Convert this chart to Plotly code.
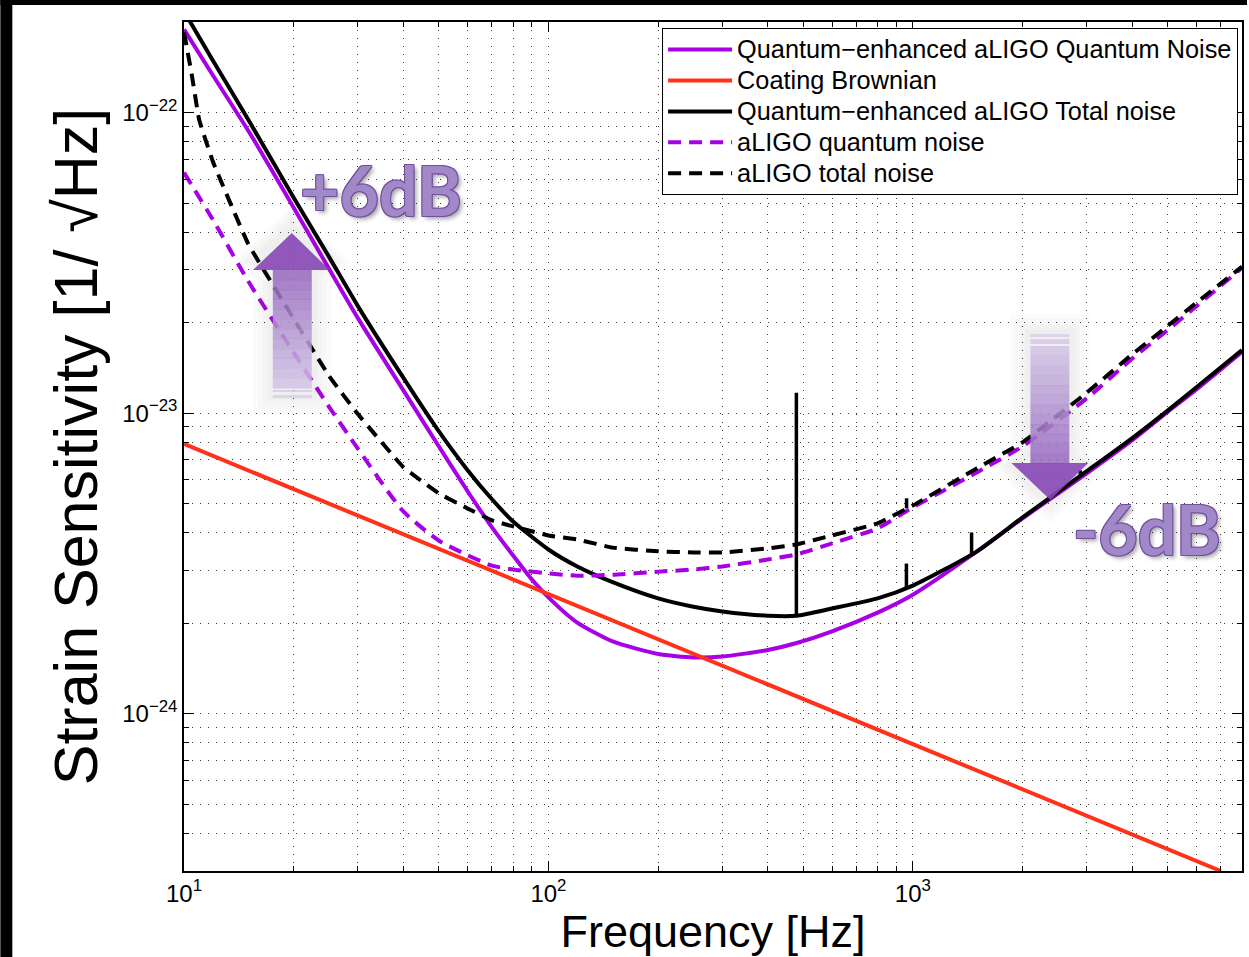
import plotly.graph_objects as go
import math

# ---------------- data ----------------
freq_common = [10, 12, 15, 20, 25, 30, 40, 50, 60, 70, 80, 100, 120, 150, 200, 250,
               300, 400, 480, 600, 800, 1000, 1500, 2000, 3000, 4000, 5000, 6000, 8000]

# Quantum-enhanced aLIGO quantum noise (purple solid)
qe_quantum_freq = [10, 12, 15, 20, 25, 30, 40, 50, 60, 70, 80, 90, 100, 120, 150, 200, 250,
                   300, 400, 480, 600, 800, 1000, 1500, 2000, 3000, 4000, 5000, 6000, 8000]
qe_quantum = [1.89e-22, 1.33e-22, 8.71e-23, 4.82e-23, 3.02e-23, 2.07e-23, 1.19e-23, 7.76e-24,
              5.50e-24, 4.17e-24, 3.36e-24, 2.80e-24, 2.44e-24, 2.01e-24, 1.74e-24, 1.58e-24,
              1.54e-24, 1.55e-24, 1.63e-24, 1.72e-24, 1.88e-24, 2.17e-24, 2.49e-24, 3.47e-24,
              4.47e-24, 6.31e-24, 8.13e-24, 1.01e-23, 1.20e-23, 1.60e-23]

# Coating Brownian (red)
coating_freq = [10, 7000]
coating = [7.9e-24, 3.0e-25]

# Quantum-enhanced aLIGO total noise (black solid), smooth part
qe_total = [2.17e-22, 1.49e-22, 9.48e-23, 5.21e-23, 3.31e-23, 2.27e-23, 1.31e-23, 8.71e-24,
            6.46e-24, 5.17e-24, 4.36e-24, 3.52e-24, 3.09e-24, 2.74e-24, 2.42e-24, 2.27e-24,
            2.19e-24, 2.12e-24, 2.12e-24, 2.24e-24, 2.42e-24, 2.67e-24, 3.47e-24, 4.50e-24,
            6.41e-24, 8.26e-24, 1.02e-23, 1.22e-23, 1.62e-23]

# aLIGO quantum noise (purple dashed)
aligo_quantum = [6.31e-23, 4.40e-23, 2.75e-23, 1.59e-23, 1.05e-23, 7.62e-24, 4.71e-24, 3.77e-24,
                 3.37e-24, 3.11e-24, 3.02e-24, 2.93e-24, 2.88e-24, 2.90e-24, 2.97e-24, 3.02e-24,
                 3.09e-24, 3.26e-24, 3.39e-24, 3.69e-24, 4.14e-24, 4.86e-24, 6.36e-24, 7.76e-24,
                 1.12e-23, 1.52e-23, 1.89e-23, 2.27e-23, 3.04e-23]

# aLIGO total noise (black dashed)
aligo_total_freq = [10, 10.5, 11, 12, 15, 20, 25, 30, 40, 50, 60, 70, 80, 100, 120, 150, 200,
                    250, 300, 400, 480, 600, 800, 1000, 1500, 2000, 3000, 4000, 5000, 6000, 8000]
aligo_total = [1.85e-22, 1.34e-22, 9.48e-23, 6.87e-23, 3.66e-23, 2.06e-23, 1.33e-23, 9.93e-24,
               6.61e-24, 5.41e-24, 4.82e-24, 4.40e-24, 4.20e-24, 3.92e-24, 3.80e-24, 3.57e-24,
               3.47e-24, 3.44e-24, 3.44e-24, 3.55e-24, 3.66e-24, 3.92e-24, 4.30e-24, 4.93e-24,
               6.56e-24, 8.00e-24, 1.17e-23, 1.57e-23, 1.95e-23, 2.33e-23, 3.07e-23]

# violin-mode spikes (frequency, curve level, spike top)
spike_freq = [479, 960, 1449, 2880, 961]
spike_base = [2.12e-24, 2.63e-24, 3.41e-24, 6.17e-24, 4.82e-24]
spike_peak = [1.17e-23, 3.16e-24, 4.01e-24, 6.45e-24, 5.21e-24]

names = ["Quantum−enhanced aLIGO Quantum Noise", "Coating Brownian",
         "Quantum−enhanced aLIGO Total noise", "aLIGO quantum noise", "aLIGO total noise"]

x_tickvals = [10, 100, 1000]
x_ticktext = ["10<sup>1</sup>", "10<sup>2</sup>", "10<sup>3</sup>"]
y_tickvals = [1e-24, 1e-23, 1e-22]
y_ticktext = ["10<sup>−24</sup>", "10<sup>−23</sup>", "10<sup>−22</sup>"]

# ---------------- layout geometry ----------------
W, H = 1249, 957
L, R, T, B = 184, 1244, 22, 871
FONT = "Liberation Sans, Arial, Helvetica, sans-serif"
PURPLE = "#a800e6"
RED = "#ff3119"
LW = 4


def px(x):
    return (x - L) / (R - L)


def py(y):
    return (B - y) / (B - T)


def leg(name):
    return f"<span style='font-size:25.3px'>{name}</span>"


fig = go.Figure()
fig.add_trace(go.Scatter(x=qe_quantum_freq, y=qe_quantum, mode="lines", name=leg(names[0]),
                         line=dict(color=PURPLE, width=LW, shape="spline", smoothing=0.6)))
fig.add_trace(go.Scatter(x=coating_freq, y=coating, mode="lines", name=leg(names[1]),
                         line=dict(color=RED, width=LW)))
fig.add_trace(go.Scatter(x=freq_common, y=qe_total, mode="lines", name=leg(names[2]),
                         line=dict(color="black", width=LW, shape="spline", smoothing=0.6)))
fig.add_trace(go.Scatter(x=freq_common, y=aligo_quantum, mode="lines", name=leg(names[3]),
                         line=dict(color=PURPLE, width=LW, dash="13px,8px",
                                   shape="spline", smoothing=0.6)))
fig.add_trace(go.Scatter(x=aligo_total_freq, y=aligo_total, mode="lines", name=leg(names[4]),
                         line=dict(color="black", width=LW, dash="13px,8px",
                                   shape="spline", smoothing=0.3)))

sx, sy = [], []
for f, b, p in zip(spike_freq, spike_base, spike_peak):
    sx += [f, f, None]
    sy += [b, p, None]
fig.add_trace(go.Scatter(x=sx, y=sy, mode="lines", showlegend=False, hoverinfo="skip",
                         line=dict(color="black", width=3.5)))

minor_x = [m * d for d in (10, 100, 1000) for m in range(2, 10) if m * d <= 8000]
minor_y = [m * d for d in (1e-25, 1e-24, 1e-23, 1e-22) for m in range(2, 10)
           if 3e-25 <= m * d <= 2e-22]

GRID = "#3a3a3a"
axis_common = dict(
    ticks="inside", ticklen=10, tickwidth=1, tickcolor="black",
    showline=True, linecolor="black", linewidth=1.5, mirror="allticks",
    showgrid=True, gridcolor=GRID, griddash="1px,7px", gridwidth=1,
    zeroline=False, tickfont=dict(size=24, color="black", family=FONT),
)

fig.update_xaxes(
    type="log", range=[1, math.log10(8000)],
    tickmode="array", tickvals=x_tickvals, ticktext=x_ticktext,
    minor=dict(tickmode="array", tickvals=minor_x, ticks="inside", ticklen=5,
               tickcolor="black", showgrid=True, gridcolor=GRID, griddash="1px,7px"),
    title=dict(text="Frequency [Hz]", font=dict(size=45, color="black", family=FONT),
               standoff=4),
    **axis_common,
)
fig.update_yaxes(
    type="log", range=[math.log10(3e-25), math.log10(2e-22)],
    tickmode="array", tickvals=y_tickvals, ticktext=y_ticktext,
    minor=dict(tickmode="array", tickvals=minor_y, ticks="inside", ticklen=5,
               tickcolor="black", showgrid=True, gridcolor=GRID, griddash="1px,7px"),
    title=dict(text="Strain Sensitivity [1/ √Hz]", font=dict(size=61, color="black", family=FONT),
               standoff=5),
    **axis_common,
)

shapes = []
# black frame strips (top and left) of the original image
shapes.append(dict(type="rect", xref="paper", yref="paper", x0=px(0), x1=px(12), y0=py(H), y1=py(0),
                   fillcolor="black", line=dict(width=0), layer="above"))
shapes.append(dict(type="rect", xref="paper", yref="paper", x0=px(0), x1=px(W), y0=py(5), y1=py(0),
                   fillcolor="black", line=dict(width=0), layer="above"))


def lerp(a, b, t):
    return tuple(int(round(a[i] + (b[i] - a[i]) * t)) for i in range(3))


def add_rect(x0, x1, y0, y1, rgb, alpha):
    shapes.append(dict(type="rect", xref="paper", yref="paper",
                       x0=px(x0), x1=px(x1), y0=py(y1), y1=py(y0),
                       fillcolor=f"rgba({rgb[0]},{rgb[1]},{rgb[2]},{alpha})",
                       line=dict(width=0), layer="above"))


def add_poly(pts, rgb, alpha):
    path = "M " + " L ".join(f"{px(a)},{py(b)}" for a, b in pts) + " Z"
    shapes.append(dict(type="path", xref="paper", yref="paper", path=path,
                       fillcolor=f"rgba({rgb[0]},{rgb[1]},{rgb[2]},{alpha})",
                       line=dict(width=0), layer="above"))


light = (208, 194, 228)
mid = (150, 105, 190)
dark = (135, 70, 180)

# soft halos around the arrows
for k in (20, 15, 10, 5):
    add_poly([(253 - k, 262), (292, 226 - k), (330 + k, 262), (312 + k, 275),
              (312 + k, 395 + k), (273 - k, 395 + k), (273 - k, 275)], (70, 70, 70), 0.025)
    add_poly([(1032 - k, 334 - k), (1071 + k, 334 - k), (1071 + k, 455), (1090 + k, 466),
              (1052, 503 + k), (1013 - k, 466), (1032 - k, 455)], (70, 70, 70), 0.025)

# up arrow (+6dB)
n = 12
y_bot, y_top = 388, 270
for i in range(n):
    y0 = y_bot - (y_bot - y_top) * i / n
    y1 = y_bot - (y_bot - y_top) * (i + 1) / n
    add_rect(273, 312, y1, y0 + 0.5, lerp(light, mid, i / (n - 1)), 0.85)
add_rect(273, 312, 390, 392, light, 0.7)
add_rect(273, 312, 395, 398, light, 0.6)
add_poly([(253, 270), (330, 270), (292, 233)], dark, 0.9)

# down arrow (-6dB)
y_top, y_bot = 346, 463
for i in range(n):
    y0 = y_top + (y_bot - y_top) * i / n
    y1 = y_top + (y_bot - y_top) * (i + 1) / n
    add_rect(1032, 1071, y0, y1 + 0.5, lerp(light, mid, i / (n - 1)), 0.85)
add_rect(1032, 1071, 339, 344, light, 0.7)
add_rect(1032, 1071, 334, 337, light, 0.6)
add_poly([(1013, 463), (1090, 463), (1052, 500)], dark, 0.9)

OUT = "#73509f"
shadow = (f"-1px -1px 0 {OUT}, 1px -1px 0 {OUT}, -1px 1px 0 {OUT}, 1px 1px 0 {OUT}, "
          "3px 3px 4px rgba(0,0,0,0.35)")
label_font = dict(family="Lato, Open Sans, sans-serif", size=68, color="#a088c9",
                  weight="bold", shadow=shadow)
annotations = [
    dict(text="+6dB", x=px(381), y=py(190), xref="paper", yref="paper", showarrow=False,
         xanchor="center", yanchor="middle", font=label_font),
    dict(text="-6dB", x=px(1149), y=py(528), xref="paper", yref="paper", showarrow=False,
         xanchor="center", yanchor="middle", font=label_font),
]

fig.update_layout(
    width=W, height=H,
    margin=dict(l=L, r=W - R, t=T, b=H - B),
    paper_bgcolor="white", plot_bgcolor="white",
    font=dict(family=FONT, color="black"),
    shapes=shapes, annotations=annotations,
    showlegend=True,
    legend=dict(x=px(663), y=py(28), xanchor="left", yanchor="top",
                bgcolor="white", bordercolor="black", borderwidth=1,
                font=dict(size=21.5, color="black", family=FONT),
                itemwidth=64, tracegroupgap=0),
)

fig.write_html("out.html", config={"displayModeBar": False},
               post_script="document.body.style.margin='0px';")
